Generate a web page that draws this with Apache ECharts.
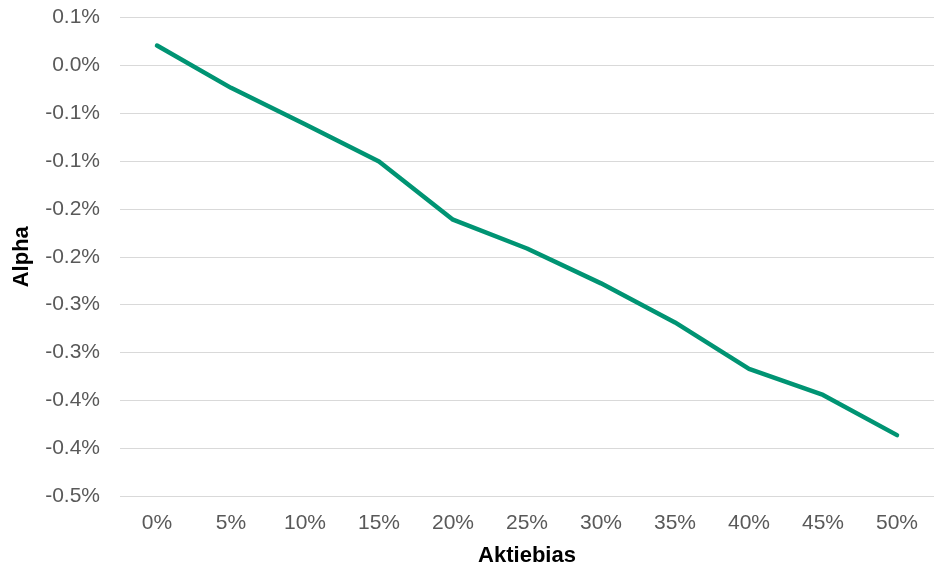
<!DOCTYPE html>
<html>
<head>
<meta charset="utf-8">
<script src="https://cdn.jsdelivr.net/npm/echarts@6/dist/echarts.min.js"></script>
<style>
  html, body { margin: 0; padding: 0; background: #fff; }
  #chart { width: 935px; height: 572px; }
</style>
</head>
<body>
<div id="chart"></div>
<script>
// Equity bias (x) versus alpha in percent (y)
const categories = ['0%', '5%', '10%', '15%', '20%', '25%', '30%', '35%', '40%', '45%', '50%'];
const alphaValues = [0.0207, -0.0235, -0.0616, -0.1004, -0.1613, -0.1914, -0.2278, -0.2686, -0.3171, -0.3444, -0.3864];
const yMin = -0.45;
const yMax = 0.05;
const yStep = 0.05;

// One-decimal percent label, rounding half away from zero
function pctLabel(v) {
  const r = Math.sign(v) * Math.round(Math.abs(v) * 10 + 1e-9) / 10;
  return (r === 0 ? 0 : r).toFixed(1) + '%';
}

const FONT = 'Liberation Sans, Arial, sans-serif';

const chart = echarts.init(document.getElementById('chart'), null, { renderer: 'canvas' });
chart.setOption({
  animation: false,
  backgroundColor: '#ffffff',
  grid: { left: 120, right: 1, top: 17.5, bottom: 73, containLabel: false },
  xAxis: {
    type: 'category',
    data: categories,
    boundaryGap: true,
    name: 'Aktiebias',
    nameLocation: 'middle',
    nameGap: 49,
    nameTextStyle: { fontFamily: FONT, fontSize: 22, fontWeight: 'bold', color: '#000' },
    axisLine: { show: false },
    axisTick: { show: false },
    axisLabel: { margin: 17, fontFamily: FONT, fontSize: 21, color: '#595959' }
  },
  yAxis: {
    type: 'value',
    min: yMin,
    max: yMax,
    interval: yStep,
    name: 'Alpha',
    nameLocation: 'middle',
    nameGap: 87,
    nameTextStyle: { fontFamily: FONT, fontSize: 22, fontWeight: 'bold', color: '#000' },
    axisLine: { show: false },
    axisTick: { show: false },
    splitLine: { show: true, lineStyle: { color: '#d9d9d9', width: 1 } },
    axisLabel: {
      margin: 20,
      fontFamily: FONT,
      fontSize: 21,
      color: '#595959',
      formatter: pctLabel
    }
  },
  series: [{
    type: 'line',
    data: alphaValues,
    symbol: 'none',
    smooth: false,
    lineStyle: { color: '#009473', width: 4.5, cap: 'round', join: 'round' },
    itemStyle: { color: '#009473' }
  }]
});
</script>
</body>
</html>
